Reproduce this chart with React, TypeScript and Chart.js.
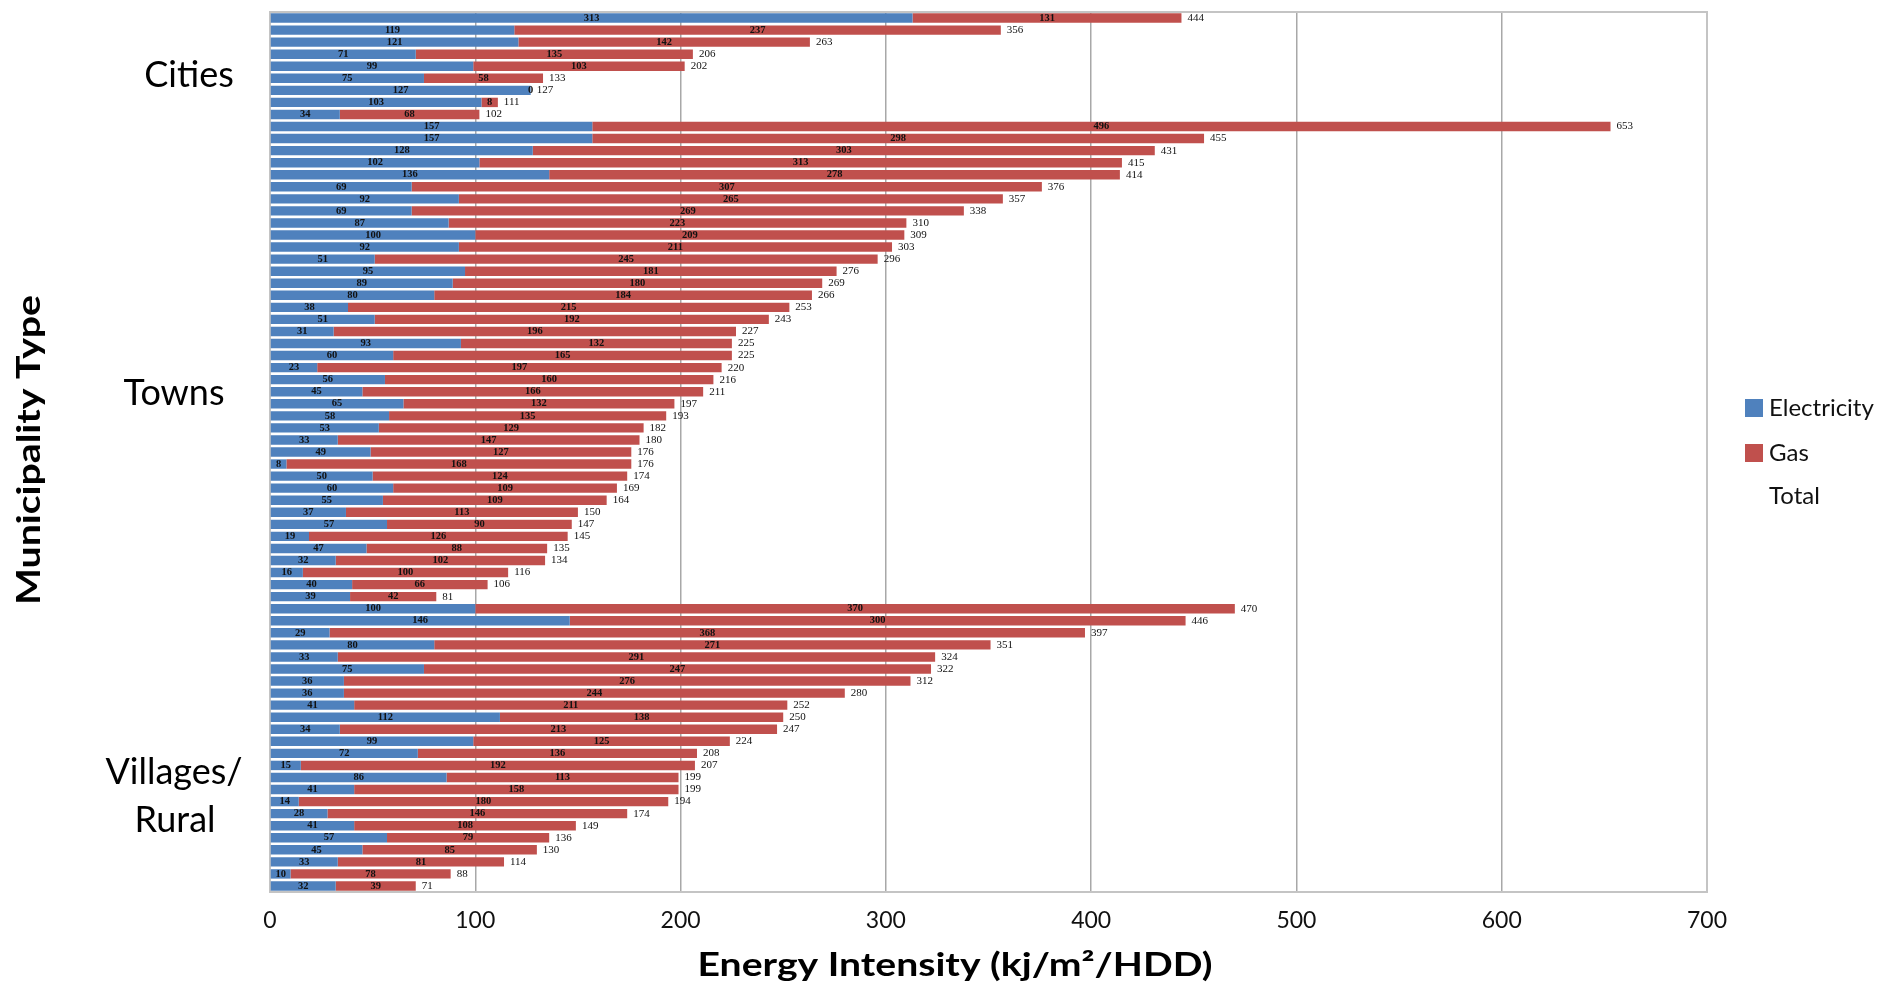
import React, { useEffect, useRef } from "react";
import { Chart, registerables } from "chart.js";

Chart.register(...registerables);

// ---- data ----
const groupNames = ["Cities", "Towns", "Villages/ Rural"];
const groupSizes = [9, 40, 24];

const electricity = [
  313, 119, 121, 71, 99, 75, 127, 103, 34,
  157, 157, 128, 102, 136, 69, 92, 69, 87, 100, 92, 51, 95, 89, 80, 38, 51, 31, 93, 60,
  23, 56, 45, 65, 58, 53, 33, 49, 8, 50, 60, 55, 37, 57, 19, 47, 32, 16, 40, 39,
  100, 146, 29, 80, 33, 75, 36, 36, 41, 112, 34, 99, 72, 15, 86, 41, 14, 28, 41, 57, 45,
  33, 10, 32,
];
const gas = [
  131, 237, 142, 135, 103, 58, 0, 8, 68,
  496, 298, 303, 313, 278, 307, 265, 269, 223, 209, 211, 245, 181, 180, 184, 215, 192, 196, 132, 165,
  197, 160, 166, 132, 135, 129, 147, 127, 168, 124, 109, 109, 113, 90, 126, 88, 102, 100, 66, 42,
  370, 300, 368, 271, 291, 247, 276, 244, 211, 138, 213, 125, 136, 192, 113, 158, 180, 146, 108, 79, 85,
  81, 78, 39,
];
const totals = [
  444, 356, 263, 206, 202, 133, 127, 111, 102,
  653, 455, 431, 415, 414, 376, 357, 338, 310, 309, 303, 296, 276, 269, 266, 253, 243, 227, 225, 225,
  220, 216, 211, 197, 193, 182, 180, 176, 176, 174, 169, 164, 150, 147, 145, 135, 134, 116, 106, 81,
  470, 446, 397, 351, 324, 322, 312, 280, 252, 250, 247, 224, 208, 207, 199, 199, 194, 174, 149, 136, 130,
  114, 88, 71,
];
const xTickValues = [0, 100, 200, 300, 400, 500, 600, 700];
const seriesNames = ["Electricity", "Gas", "Total"];
const xTitle = "Energy Intensity (kj/m\u00B2/HDD)";
const yTitle = "Municipality Type";

const categories: string[] = [];
groupNames.forEach((g, gi) => {
  for (let i = 0; i < groupSizes[gi]; i++) categories.push(`${g} ${i + 1}`);
});

const BLUE = "#4F81BD";
const RED = "#C0504D";

const labelsPlugin = {
  id: "customDraw",
  beforeDatasetsDraw(chart: any) {
    const { ctx, chartArea } = chart;
    ctx.save();
    ctx.strokeStyle = "#c4c4c4";
    ctx.lineWidth = 2;
    ctx.strokeRect(chartArea.left, chartArea.top, chartArea.right - chartArea.left, chartArea.bottom - chartArea.top);
    ctx.restore();
  },
  afterDatasetsDraw(chart: any) {
    const { ctx } = chart;
    ctx.save();
    ctx.textBaseline = "middle";
    [0, 1].forEach((di) => {
      const meta = chart.getDatasetMeta(di);
      const data = chart.data.datasets[di].data as number[];
      meta.data.forEach((el: any, i: number) => {
        const cx = (el.x + el.base) / 2;
        ctx.font = "bold 10.5px 'Liberation Serif'";
        ctx.fillStyle = "#111";
        ctx.textAlign = "center";
        ctx.fillText(String(data[i]), cx, el.y);
      });
    });
    const meta1 = chart.getDatasetMeta(1);
    meta1.data.forEach((el: any, i: number) => {
      ctx.font = "11px 'Liberation Serif'";
      ctx.fillStyle = "#111";
      ctx.textAlign = "left";
      ctx.fillText(String(totals[i]), Math.max(el.x, el.base) + 6, el.y);
    });
    ctx.restore();
  },
  afterDraw(chart: any) {
    const { ctx } = chart;
    const y = chart.scales.y;
    ctx.save();
    ctx.fillStyle = "#000";
    ctx.textAlign = "center";
    ctx.textBaseline = "middle";
    ctx.font = "36px Lato";
    ctx.fillText(groupNames[0], 189, y.getPixelForValue(4.8));
    ctx.fillText(groupNames[1], 174, y.getPixelForValue(31.1));
    const vParts = groupNames[2].split(" ");
    const vy = y.getPixelForValue(64.6);
    ctx.fillText(vParts[0], 174, vy - 24);
    ctx.fillText(vParts[1], 175, vy + 24);

    ctx.save();
    ctx.translate(30, 450);
    ctx.rotate(-Math.PI / 2);
    ctx.font = "bold 32px Lato";
    const wy = ctx.measureText(yTitle).width;
    ctx.scale(310 / wy, 1);
    ctx.fillText(yTitle, 0, 0);
    ctx.restore();

    ctx.save();
    ctx.translate(955, 966);
    ctx.font = "bold 32px Lato";
    const wx = ctx.measureText(xTitle).width;
    ctx.scale(515 / wx, 1);
    ctx.fillText(xTitle, 0, 0);
    ctx.restore();

    const items = [
      { name: seriesNames[0], color: chart.data.datasets[0].backgroundColor, y: 408 },
      { name: seriesNames[1], color: chart.data.datasets[1].backgroundColor, y: 453 },
      { name: seriesNames[2], color: null, y: 496 },
    ];
    ctx.font = "24px Lato";
    ctx.textAlign = "left";
    items.forEach((it) => {
      if (it.color) {
        ctx.fillStyle = it.color;
        ctx.fillRect(1745, it.y - 9, 18, 18);
      }
      ctx.fillStyle = "#111";
      ctx.fillText(it.name, 1769, it.y);
    });
    ctx.restore();
  },
};

export default function App() {
  const ref = useRef<HTMLCanvasElement>(null);
  useEffect(() => {
    if (!ref.current) return;
    const chart = new Chart(ref.current, {
      type: "bar",
      data: {
        labels: categories,
        datasets: [
          {
            label: seriesNames[0],
            data: electricity,
            backgroundColor: BLUE,
            borderWidth: 0,
            categoryPercentage: 1,
            barPercentage: 0.78,
          },
          {
            label: seriesNames[1],
            data: gas,
            backgroundColor: RED,
            borderWidth: 0,
            categoryPercentage: 1,
            barPercentage: 0.78,
          },
        ],
      },
      options: {
        indexAxis: "y",
        responsive: false,
        animation: false,
        layout: { padding: { left: 270, right: 184, top: 12, bottom: 0 } },
        plugins: {
          legend: { display: false },
          tooltip: { enabled: false },
        },
        scales: {
          x: {
            stacked: true,
            min: 0,
            max: 700,
            afterBuildTicks: (scale: any) => {
              scale.ticks = xTickValues.map((v) => ({ value: v }));
            },
            afterFit: (scale: any) => {
              scale.height = 95;
            },
            ticks: {
              font: { family: "Lato", size: 23 },
              color: "#111",
              padding: 15,
            },
            grid: { color: "#a8a8a8", lineWidth: 1.5, drawTicks: false },
            border: { display: true, color: "#c4c4c4", width: 2 },
          },
          y: {
            stacked: true,
            display: false,
            grid: { display: false },
          },
        },
      },
      plugins: [labelsPlugin],
    });
    return () => chart.destroy();
  }, []);
  return (
    <div style={{ position: "absolute", left: 0, top: 0, width: 1891, height: 987, background: "#fff" }}>
      <canvas ref={ref} width={1891} height={987} style={{ display: "block" }} />
    </div>
  );
}
